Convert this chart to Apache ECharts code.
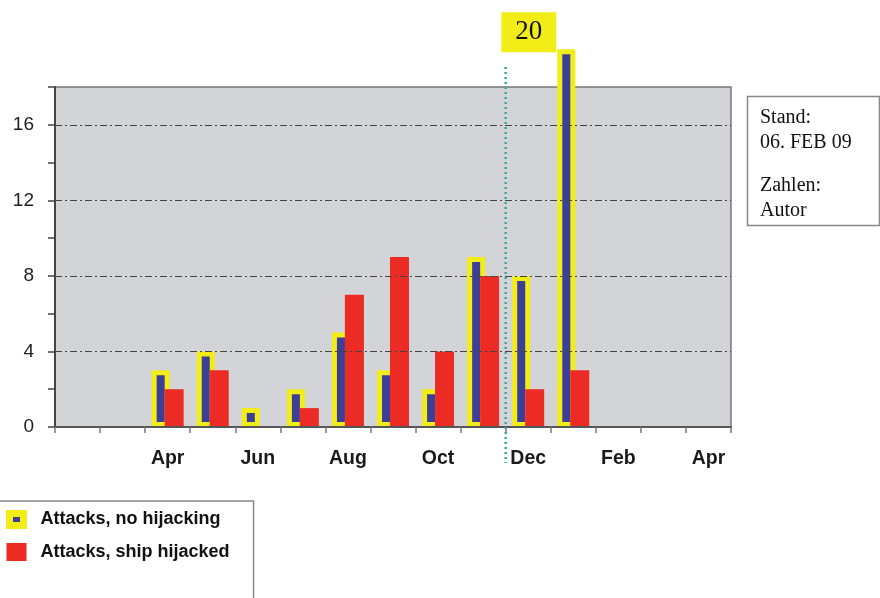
<!DOCTYPE html>
<html>
<head>
<meta charset="utf-8">
<script src="https://cdn.jsdelivr.net/npm/echarts@6/dist/echarts.min.js"></script>
<style>
html, body { margin: 0; padding: 0; background: #fff; }
#main { width: 880px; height: 598px; }
</style>
</head>
<body>
<div id="main"></div>
<script>
// months Feb 2008 .. Apr 2009
var months = ['Feb', 'Mar', 'Apr', 'May', 'Jun', 'Jul', 'Aug', 'Sep', 'Oct', 'Nov', 'Dec', 'Jan', 'Feb', 'Mar', 'Apr'];
var noHijack = [null, null, 3, 4, 1, 2, 5, 3, 2, 9, 8, 20, null, null, null];
var hijacked = [null, null, 2, 3, null, 1, 7, 9, 4, 8, 2, 3, null, null, null];
var yMax = 18;
var yStep = 2;
var yLabelStep = 4;
var standText = ['Stand:', '06. FEB 09'];
var sourceText = ['Zahlen:', 'Autor'];

var myChart = echarts.init(document.getElementById('main'));

// value above the axis range gets its yellow "20" flag
var noHijackData = noHijack.map(function (v) {
  if (v != null && v > yMax) {
    return {
      value: v,
      label: {
        show: true,
        position: [-56, -37],
        formatter: '{c}',
        fontFamily: 'Liberation Serif',
        fontSize: 27,
        lineHeight: 28,
        color: '#111',
        backgroundColor: '#f2ec17',
        padding: [6, 14, 6, 14]
      }
    };
  }
  return v;
});

var option = {
  animation: false,
  grid: {
    left: 55, right: 149, top: 87, bottom: 171,
    outerBoundsMode: 'none',
    show: true,
    backgroundColor: '#d3d4d7',
    borderColor: '#777',
    borderWidth: 1.5
  },
  legend: {
    orient: 'vertical',
    left: -1,
    top: 501,
    height: 200,
    icon: 'rect',
    itemWidth: 14,
    itemHeight: 12,
    itemGap: 14,
    padding: [9, 24, 60, 7],
    backgroundColor: '#fff',
    borderColor: '#888',
    borderWidth: 1.5,
    textStyle: {
      fontFamily: 'Liberation Sans',
      fontWeight: 'bold',
      fontSize: 18,
      color: '#111',
      padding: [0, 0, 0, 12]
    },
    data: [
      { name: 'Attacks, no hijacking', itemStyle: { borderWidth: 7 } },
      { name: 'Attacks, ship hijacked', itemStyle: { borderWidth: 6 } }
    ]
  },
  xAxis: {
    type: 'category',
    data: months,
    z: 5,
    axisLine: { lineStyle: { color: '#555', width: 2 } },
    axisTick: { show: true, length: 6, interval: 0, lineStyle: { color: '#777', width: 1.5 } },
    axisLabel: {
      interval: function (idx) { return idx >= 2 && idx % 2 === 0; },
      margin: 22,
      fontFamily: 'Liberation Sans',
      fontWeight: 'bold',
      fontSize: 19.5,
      color: '#1a1a1a'
    },
    splitLine: { show: false }
  },
  yAxis: {
    type: 'value',
    min: 0,
    max: yMax,
    interval: yStep,
    z: 5,
    axisLine: { show: true, lineStyle: { color: '#444', width: 2 } },
    axisTick: { show: true, length: 7, lineStyle: { color: '#444', width: 1.5 } },
    axisLabel: {
      margin: 21,
      fontFamily: 'Liberation Sans',
      fontSize: 19,
      color: '#222',
      formatter: function (v) { return (v % yLabelStep === 0 && v < yMax) ? String(v) : ''; }
    },
    splitLine: {
      show: true,
      showMinLine: true,
      showMaxLine: true,
      lineStyle: { color: ['#444', 'rgba(0,0,0,0)'], width: 1, type: [7, 3, 2, 3] }
    }
  },
  series: [
    {
      name: 'Attacks, no hijacking',
      type: 'bar',
      data: noHijackData,
      barWidth: 18,
      barGap: '-28%',
      clip: false,
      itemStyle: { color: '#3b3f98', borderColor: '#f2ec17', borderWidth: 5 }
    },
    {
      name: 'Attacks, ship hijacked',
      type: 'bar',
      data: hijacked,
      barWidth: 19,
      itemStyle: { color: '#ec2b25', borderColor: '#ec2b25', borderWidth: 0 }
    }
  ],
  graphic: [
    {
      type: 'group',
      id: 'note',
      z: 20,
      children: [
        { type: 'rect', shape: { x: 747.5, y: 96.5, width: 132, height: 129 },
          style: { fill: '#fff', stroke: '#888', lineWidth: 1.5 } },
        { type: 'text', x: 760, y: 118, style: { text: standText[0], font: '20px "Liberation Serif"', fill: '#111', verticalAlign: 'middle' } },
        { type: 'text', x: 760, y: 143, style: { text: standText[1], font: '20px "Liberation Serif"', fill: '#111', verticalAlign: 'middle' } },
        { type: 'text', x: 760, y: 186, style: { text: sourceText[0], font: '20px "Liberation Serif"', fill: '#111', verticalAlign: 'middle' } },
        { type: 'text', x: 760, y: 211, style: { text: sourceText[1], font: '20px "Liberation Serif"', fill: '#111', verticalAlign: 'middle' } }
      ]
    }
  ]
};
myChart.setOption(option);

// dotted year divider between Nov and Dec
var pNov = myChart.convertToPixel({ xAxisIndex: 0 }, 9);
var pDec = myChart.convertToPixel({ xAxisIndex: 0 }, 10);
var xDiv = (pNov + pDec) / 2;
myChart.setOption({
  graphic: [
    {
      type: 'line',
      id: 'divider',
      z: 20,
      shape: { x1: xDiv, y1: 67, x2: xDiv, y2: 463 },
      style: { stroke: '#3aa99c', lineWidth: 2.5, lineDash: [2, 3] }
    }
  ]
});
</script>
</body>
</html>
